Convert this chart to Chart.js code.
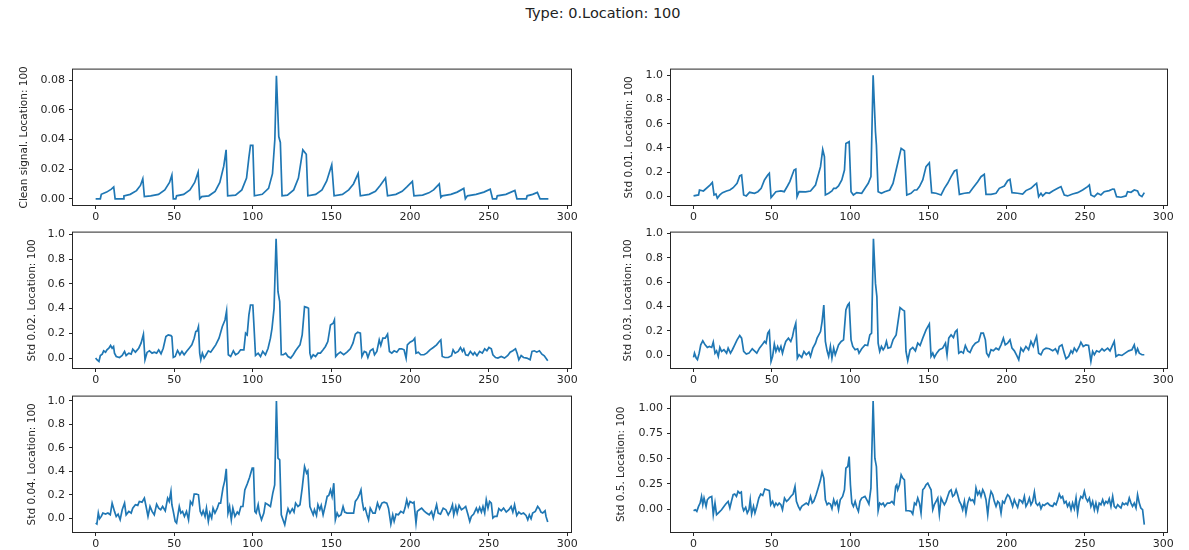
<!DOCTYPE html>
<html>
<head>
<meta charset="utf-8">
<script src="https://cdn.jsdelivr.net/npm/chart.js@4.4.1/dist/chart.umd.min.js"></script>
<style>
  html, body { margin: 0; padding: 0; background: #fff; overflow: hidden; }
  #fig { position: relative; width: 1189px; height: 550px; }
  #suptitle { position: absolute; left: 303px; width: 600px; top: 5px; text-align: center;
    font: 14.5px "DejaVu Sans", sans-serif; color: #222; }
  canvas { position: absolute; }
</style>
</head>
<body>
<div id="fig">
  <div id="suptitle"></div>
</div>
<script>
// Figure title and subplot titles
const figTitle = 'Type: 0.Location: 100';
const panelTitles = [
  'Clean signal. Location: 100', 'Std 0.01. Location: 100',
  'Std 0.02. Location: 100', 'Std 0.03. Location: 100',
  'Std 0.04. Location: 100', 'Std 0.5. Location: 100'
];

// Tick values / labels
const xTickValues = [0, 50, 100, 150, 200, 250, 300];
const xTickLabels = ['0', '50', '100', '150', '200', '250', '300'];
const yTicksClean = [0, 0.02, 0.04, 0.06, 0.08];
const yLabelsClean = ['0.00', '0.02', '0.04', '0.06', '0.08'];
const yTicksStd = [0, 0.2, 0.4, 0.6, 0.8, 1.0];
const yLabelsStd = ['0.0', '0.2', '0.4', '0.6', '0.8', '1.0'];
const yTicksWide = [0, 0.25, 0.5, 0.75, 1.0];
const yLabelsWide = ['0.00', '0.25', '0.50', '0.75', '1.00'];

// Signals, [sample, value]
const cleanSignal = [[0,0],[3,0],[3.6,0.003],[7,0.0045],[10,0.0065],[11.5,0.008],[12.4,0],[17.5,0],[18,0.002],[22,0.003],[26,0.0055],[28.5,0.009],[30,0.0135],[31,0.0015],[35,0.002],[40,0.003],[44,0.006],[47,0.011],[48.5,0.016],[49.4,0],[51,0],[51.5,0.002],[56,0.003],[60,0.006],[63,0.011],[65.2,0.018],[66.2,0],[67.5,0.0015],[72,0.002],[76,0.005],[79,0.011],[81.5,0.022],[83,0.033],[84,0.002],[89,0.0025],[93,0.006],[96,0.014],[97.5,0.028],[98.5,0.036],[100,0.036],[101,0.002],[106,0.003],[110,0.007],[112.5,0.017],[114,0.04],[115,0.083],[116.5,0.042],[117.5,0.038],[118.6,0.002],[122,0.0025],[126,0.006],[129,0.014],[131.8,0.033],[134,0.03],[135,0.002],[140,0.003],[144,0.006],[147,0.012],[150.2,0.023],[151.7,0.002],[157,0.003],[161,0.006],[164,0.01],[167,0.017],[168.4,0.002],[174,0.003],[178,0.005],[181,0.009],[184.4,0.014],[185.7,0.002],[191,0.003],[195,0.005],[198,0.008],[201.5,0.0117],[202.5,0.002],[208,0.0025],[212,0.004],[215,0.006],[218.6,0.010],[219.6,0.001],[220.5,0.002],[226,0.003],[230,0.0045],[234.2,0.007],[235.2,0],[236.5,0.002],[242,0.003],[247,0.0045],[251,0.0065],[252.5,0],[255,0],[255.5,0.002],[261,0.003],[266.7,0.0056],[268,0],[274,0],[274.5,0.002],[278,0.003],[281,0.0043],[282.7,0],[288,0]];

const std001 = [[0,0.003],[3.2,0.011],[3.8,0.052],[6.3,0.044],[10.5,0.093],[12,0.115],[13.1,0.011],[14.3,0.019],[15.2,-0.016],[16.8,0.011],[18.5,0.03],[21.1,0.044],[23.2,0.052],[25.3,0.071],[27.8,0.107],[29.5,0.168],[30.7,0.176],[32,0.011],[33.7,0.003],[35.8,0.033],[38.9,0.025],[41.1,0.038],[43.2,0.066],[45.3,0.135],[47.4,0.176],[48.4,0.19],[49.5,-0.011],[50.9,0.011],[52.6,0.038],[55.8,0.044],[57.9,0.038],[60,0.085],[61.5,0.121],[64.2,0.217],[65.3,0.225],[66.1,-0.003],[67.4,0.038],[71.6,0.036],[74.7,0.044],[77.9,0.093],[81.1,0.245],[82.5,0.387],[83.6,0.327],[84.2,0.011],[86.3,0.025],[88.4,0.044],[89.5,0.066],[90.9,0.066],[92.6,0.085],[94.7,0.135],[96.4,0.217],[97.3,0.437],[99.4,0.451],[100.6,0.038],[102.1,0.011],[104.2,0.03],[107.4,0.025],[109.5,0.066],[111.6,0.107],[113.3,0.162],[114.7,1.0],[116.2,0.533],[116.8,0.423],[117.9,0.038],[120,0.025],[122.1,0.038],[125.3,0.052],[127.4,0.107],[129.4,0.217],[132.6,0.396],[134.7,0.376],[136.2,0.011],[138.9,0.025],[141.1,0.052],[142.6,0.052],[144.3,0.08],[146.4,0.135],[148.5,0.245],[150.6,0.277],[152.1,0.03],[154.9,0.025],[158.1,0.011],[160.2,0.066],[162.3,0.107],[164.5,0.162],[166.6,0.209],[168.1,0.217],[169.8,0.016],[173,0.025],[176.2,0.03],[178.3,0.066],[181.5,0.121],[183.6,0.162],[185.7,0.181],[186.8,0.016],[190,0.016],[193.2,0.025],[195.3,0.066],[198.5,0.085],[200.6,0.129],[202.1,0.14],[203.4,0.03],[207,0.025],[210.2,0.019],[212.3,0.047],[215.5,0.066],[217.7,0.093],[219.1,0.107],[220.4,-0.003],[221.9,0.025],[223,0.003],[225.1,0.03],[227.2,0.025],[229.4,0.044],[232.6,0.066],[234.7,0.08],[236.8,0.011],[238.9,0.003],[242.1,0.019],[245.3,0.03],[248.5,0.052],[251.7,0.08],[252.8,0.093],[253.8,0.011],[256,-0.003],[258.1,0.025],[260.2,0.011],[262.3,0.038],[265.5,0.047],[267.7,0.06],[268.7,0.058],[270.2,-0.003],[273,-0.008],[276.2,0.003],[277.2,0.038],[279.4,0.033],[281.5,0.052],[283.6,0.044],[284.7,0.011],[286.4,-0.003],[287.9,0.03]];

const std002 = [[0,0],[0.8,-0.013],[2.1,-0.027],[3,0.021],[4.2,0.032],[5.1,0.059],[6.3,0.048],[7.2,0.067],[8.4,0.08],[9.5,0.102],[10.5,0.08],[11.4,0.094],[12,0.04],[13.1,0.013],[15.2,0.005],[16.9,0.021],[18.4,0.054],[19.4,0.021],[21.1,0.04],[22.6,0.032],[23.6,0.072],[25.3,0.048],[27.4,0.08],[28.9,0.121],[30.4,0.193],[31.4,-0.013],[32.7,0.046],[34.2,0.059],[35.9,0.04],[37.3,0.048],[38.8,0.04],[40.1,0.067],[41.6,0.035],[43,0.08],[44.7,0.174],[46.2,0.188],[47.9,0.182],[48.5,0.174],[49.4,0.005],[50.6,0.013],[52.1,0.062],[53.6,0.027],[54.9,0.054],[56.3,0.027],[57.8,0.054],[59.5,0.08],[61.2,0.107],[62.7,0.161],[63.7,0.214],[64.6,0.22],[65.4,0.255],[66.2,0.04],[66.9,-0.013],[67.9,0.04],[69,0],[70,0.021],[71.7,0.059],[73.2,0.048],[74.7,0.075],[76.4,0.107],[78.5,0.161],[80.6,0.255],[82.3,0.308],[83.3,0.381],[84.4,0.027],[85.9,0.013],[87.6,0.059],[89,0.027],[90.7,0.04],[92.2,0.067],[94.3,0.067],[95.4,0.201],[96.4,0.188],[97.5,0.349],[98.5,0.429],[100,0.429],[100.8,0.241],[101.7,0.021],[103.4,0.04],[104.9,0.013],[106.3,0.054],[108,0.027],[109.7,0.08],[111.2,0.161],[112.2,0.241],[113.5,0.402],[114.8,0.965],[116,0.536],[117.1,0.456],[118.1,0.027],[119.4,0.027],[120.9,0.04],[122.4,0.013],[124.1,0],[125.7,0.027],[127.2,0.059],[128.7,0.086],[130,0.107],[131.4,0.188],[132.9,0.416],[134.6,0.408],[135.4,0.402],[136.3,0.04],[137.1,0],[138.4,0.027],[139.9,0.013],[141.4,0.04],[143,0.04],[144.7,0.067],[146.2,0.094],[147.7,0.134],[149.4,0.268],[151.1,0.282],[151.9,0.308],[152.7,0.013],[154,0.032],[155.7,0.048],[157.8,0.027],[159.9,0.048],[162,0.075],[163.7,0.121],[165.2,0.193],[166.7,0.209],[168.4,0.201],[169.4,0.013],[170.9,0.054],[172.2,0.046],[173.2,0.005],[174.7,0.059],[176.4,0.075],[177.4,0.027],[178.9,0.054],[180.4,0.147],[181.4,0.102],[182.7,0.161],[184.2,0.161],[185.7,0.193],[186.9,0.054],[188.4,0.04],[189.9,0.059],[191.6,0.048],[193.2,0.075],[194.7,0.075],[196.2,0.067],[197.5,0],[198.3,0.107],[200,0.129],[201.7,0.139],[203,0.161],[203.8,0.04],[205.3,0.048],[206.8,0.027],[208.9,0.027],[210.6,0.04],[212.7,0.067],[214.8,0.086],[216.9,0.107],[218.6,0.134],[219.6,0.147],[220.5,0.013],[222.2,0.005],[224.3,0.005],[226.4,0.019],[227.4,0.067],[228.7,0.04],[230.6,0.054],[232.1,0.086],[233.3,0.054],[234.2,0.075],[235.4,0.027],[236.9,0.021],[238.4,0.054],[240.1,0.027],[241.1,0.046],[242.6,0.019],[244.3,0.054],[246,0.04],[247.5,0.075],[248.9,0.059],[250.2,0.086],[251.7,0.075],[252.7,0.027],[254.4,0.005],[255.9,0],[258,0.013],[260.1,0],[262.2,0.021],[263.7,0.048],[265.4,0.059],[267.1,0.075],[268.1,0.04],[269.2,-0.013],[270.7,0.021],[272.2,0.005],[274.3,0],[276.4,-0.013],[277.6,0.054],[279.1,0.059],[280.6,0.048],[282.3,0.059],[283.9,0.032],[285.4,0.019],[287.6,-0.021]];

const std003 = [[0,-0.019],[0.6,0.016],[1.7,-0.025],[2.5,-0.038],[3.6,0.016],[4.6,0.084],[5.9,0.117],[7.4,0.084],[8.8,0.063],[10.1,0.071],[11.6,0.063],[12.6,0.106],[13.7,0.016],[14.7,0.035],[15.8,-0.011],[16.8,0.063],[17.9,0.03],[19.4,0.044],[21.1,0.016],[22.1,0.057],[23.6,0.016],[24.8,0.044],[26.3,0.084],[27.8,0.125],[29.5,0.161],[30.7,0.139],[32,0.03],[33.7,0.008],[35.4,0.016],[37.5,0.052],[38.9,0.035],[40.4,0.016],[42.1,0.057],[43.8,0.084],[45.3,0.112],[46.3,0.098],[47.4,0.18],[48.4,0.199],[49.5,-0.052],[50.5,-0.011],[51.6,0.09],[52.6,0.03],[53.7,0.071],[54.7,0.035],[55.8,0.071],[56.8,0.016],[57.9,0.071],[58.9,0.112],[60.6,0.139],[62.1,0.112],[63.2,0.153],[64.2,0.215],[65.3,0.262],[66.3,-0.025],[67.4,0.003],[69.1,-0.019],[70.5,0.03],[72,0.003],[73.7,0.025],[74.7,-0.011],[76.2,0.057],[77.9,0.098],[78.9,0.139],[80,0.166],[81.1,0.193],[82.1,0.275],[83.2,0.411],[84.2,0.112],[85.3,0.035],[86.3,-0.011],[87.4,0.071],[88.4,-0.025],[89.5,0.057],[90.5,0.003],[91.6,0.044],[92.6,0.084],[94.3,0.112],[95.8,0.125],[97.3,0.371],[98.5,0.411],[99.4,0.425],[100.6,0.125],[101.7,0.071],[103.2,0.044],[104.8,0.052],[105.7,0.016],[107.4,0.052],[109.5,0.084],[111.2,0.079],[112.6,0.166],[113.7,0.18],[114.9,0.956],[116.2,0.589],[117.1,0.48],[117.9,0.098],[118.9,0.03],[120,0.071],[121.1,0.044],[122.1,0.063],[123.2,0.112],[124.2,0.057],[125.9,0.063],[127.4,0.125],[129.4,0.166],[131.9,0.39],[133.6,0.371],[134.7,0.362],[135.7,0.03],[136.8,-0.046],[138.3,0.044],[140,0.063],[141.7,0.035],[143.2,0.098],[144.7,0.079],[146.4,0.139],[148.5,0.207],[150.6,0.256],[151.7,-0.011],[152.8,0.016],[153.8,-0.019],[155.3,0.016],[157,0.044],[159.1,0.057],[160.9,0.098],[161.9,0.003],[163,0.139],[164.5,0.166],[166,0.144],[167.2,0.193],[168.3,0.207],[169.4,0.016],[170.9,0.03],[172.3,0.016],[173.6,0.079],[175.1,0.035],[176.6,0.022],[178.3,0.071],[180,0.098],[182.1,0.112],[183.6,0.18],[185.1,0.18],[186.4,0.125],[187.2,0.016],[188.5,-0.011],[190,0.044],[191.5,0.035],[193.2,0.057],[194.9,0.044],[196.4,0.084],[197.9,0.139],[199.1,0.084],[200.6,0.098],[202.1,0.125],[203.4,0.057],[204.9,0.035],[206.4,-0.003],[207.7,-0.038],[209.1,0.057],[210.6,0.03],[212.3,0.071],[214,0.044],[215.5,0.112],[217,0.071],[218.3,0.125],[219.1,0.153],[220.4,0.016],[221.9,0.003],[223.4,0.044],[225.1,0.057],[227.2,0.052],[229.4,0.035],[231.1,0.052],[232.6,0.016],[233.6,0.071],[235.3,0.084],[236.8,0.016],[237.9,-0.03],[239.6,-0.011],[241.1,0.035],[242.1,0.016],[243.2,0.057],[244.7,0.03],[246.4,0.071],[247.4,0.106],[248.9,0.071],[250.6,0.084],[252.3,0.079],[253.8,-0.052],[254.9,0.03],[256,0.003],[257.4,0.035],[259.1,0.025],[260.9,0.052],[262.3,0.035],[264.5,0.057],[266,0.035],[267.7,0.084],[268.7,0.112],[269.8,-0.011],[271.5,0.003],[273.6,-0.003],[275.7,0.016],[277.9,0.035],[280,0.044],[281.5,0.084],[282.6,0.016],[283.6,0.052],[284.7,0.016],[286.4,0.003],[287.9,0.003]];

const std004 = [[0,-0.043],[0.8,-0.051],[1.7,0.043],[2.5,-0.006],[3.6,0.014],[4.6,0.043],[6.3,0.034],[7.8,0.043],[9.3,0.028],[10.5,0.128],[12,0.057],[13.1,0.014],[14.3,0.034],[15.6,-0.014],[16.9,0.071],[18.4,0.128],[19.4,0.028],[21.1,0.057],[22.6,0.043],[23.6,0.085],[25.3,0.114],[26.8,0.108],[27.8,0.142],[29.5,0.136],[31,0.17],[32.1,0.099],[33.3,0.014],[34.6,0.099],[35.9,0.057],[37.3,0.028],[38.8,0.119],[40.1,0.085],[41.4,0.071],[42.6,0.099],[44.3,0.062],[45.8,0.17],[46.8,0.142],[47.9,0.227],[48.5,0.114],[49.4,0.057],[50.6,-0.028],[51.5,-0.043],[53.2,0.099],[54.2,0.043],[55.3,0.057],[56.5,0.014],[57.8,0.057],[59.1,-0.014],[60.3,0.142],[61.6,0.114],[62.7,0.205],[64.1,0.205],[65.4,0.199],[66.5,0.057],[67.5,0.028],[68.4,0.062],[69.6,0.014],[70.5,0.085],[71.7,-0.028],[72.6,0.043],[73.8,0],[74.7,0.085],[75.9,0.043],[77.4,0.085],[78.5,0.128],[79.5,0.128],[81,0.256],[82.1,0.318],[83.1,0.42],[84.2,0.043],[85.2,0.099],[86.3,-0.014],[87.3,0.085],[88.6,0.014],[90.1,0.051],[91.1,0.034],[92.4,0.099],[93.7,0.099],[94.9,0.241],[96.4,0.29],[97.9,0.347],[99.6,0.426],[100.4,0.426],[101.3,0.057],[102.1,0.043],[103.4,0.114],[104.2,0.043],[105.5,-0.014],[107,0.043],[108,0.128],[109.7,0.114],[111.2,0.099],[112.7,0.213],[113.9,0.284],[115,1.0],[116,0.511],[117.1,0.497],[118.1,0.028],[120.3,-0.057],[121.5,0.028],[122.4,0.08],[123.6,0.043],[125.1,0.08],[126.2,0.051],[127.2,0.128],[128.7,0.099],[130,0.114],[131.4,0.256],[132.9,0.44],[134.2,0.384],[135,0.403],[136.3,0.099],[137.1,0.071],[138.4,0.028],[139.2,0.071],[140.5,0.023],[141.4,0.114],[142.6,0.071],[143.5,0.108],[144.7,0.028],[146.2,0.114],[147.3,0.185],[148.3,0.193],[149.4,0.241],[150.4,0.185],[151.5,0.298],[152.5,-0.014],[153.6,0.043],[154.6,0.014],[156.1,0.028],[157.4,0.099],[158.4,0.051],[159.9,0.043],[162,0.043],[164.1,0.043],[165.2,0.142],[166.7,0.17],[167.9,0.205],[168.8,0.241],[169.6,0.142],[170.5,0.071],[171.5,0.085],[172.6,0.028],[173.6,-0.014],[174.7,0.085],[176.4,0.043],[177.8,0.043],[179.3,0.128],[180.6,0.08],[182.1,0.128],[183.5,0.136],[185.2,0.128],[186.3,0.085],[187.8,-0.051],[189,0.028],[189.9,-0.028],[191.1,0.034],[192.6,0.028],[194.1,0.057],[195.8,0.043],[196.8,0.085],[197.9,0.156],[198.9,0.099],[200,0.142],[201.7,0.128],[202.5,0.136],[203.8,-0.043],[204.6,0.057],[205.9,0.071],[207.4,0.085],[208.9,0.062],[210.5,0.043],[212.2,0.028],[213.7,0.057],[214.8,0],[215.8,0.057],[216.9,0.114],[217.9,0.043],[219.4,0.034],[221.1,0.085],[222.8,0.071],[224.3,0.028],[225.7,0.062],[227,0.114],[227.8,0.028],[229.1,0.099],[230,0.043],[231.2,0.108],[232.7,0.071],[234.2,0.085],[235.4,0.099],[236.9,0.028],[238,-0.028],[239,0.014],[240.5,0.034],[242.2,0.085],[243.2,0.051],[244.3,0.091],[245.4,0.051],[246.4,0.099],[247.5,0.043],[248.5,0.156],[249.6,0.085],[250.6,0.142],[251.7,0.128],[252.7,0],[253.8,0.014],[255.3,0.014],[256.5,0.08],[258,0.062],[259.5,0.085],[261.2,0.051],[262.9,0.071],[264.3,0.099],[265.4,0.051],[266.5,0.114],[267.9,0.023],[269.2,0.051],[270.7,0.034],[272.2,0.043],[273.8,0.023],[274.9,-0.014],[275.9,0.028],[277,-0.006],[278,0.043],[279.7,0.057],[281.2,0.099],[282.3,0.08],[283.3,0.051],[284.4,0.043],[285.9,0.062],[286.5,0.014],[287.6,-0.034]];

const std05 = [[0,-0.017],[1.1,-0.007],[2.1,-0.023],[3.2,0.026],[4.2,0.059],[5.1,0.125],[5.9,0.043],[6.7,0.109],[8,0.026],[8.8,0.092],[10.1,0.116],[11.6,0.125],[12.6,-0.056],[13.7,0.059],[14.7,-0.056],[16.4,-0.03],[17.9,-0.007],[19.4,0.026],[20.6,0.05],[22.1,0.076],[23.2,0.01],[24.2,0.076],[25.3,0.142],[26.3,0.149],[27.4,0.125],[28.4,0.175],[29.5,0.158],[30.5,0.168],[31.2,0.026],[32,-0.017],[33.3,0.017],[34.3,-0.04],[35.4,-0.007],[36.2,0.092],[37.1,-0.05],[38.3,0.026],[39.2,-0.04],[40.4,0.026],[41.7,0.109],[42.9,0.149],[44.2,0.135],[45.5,0.198],[46.9,0.191],[48.4,0.182],[49.3,0.043],[50.5,0.076],[51.6,0.026],[52.6,0.059],[53.7,0.036],[54.7,0.059],[55.8,0.043],[56.8,-0.007],[58.1,0.109],[59.4,0.076],[60.6,0.092],[62.1,0.125],[63.6,0.149],[64.8,0.224],[65.7,0.076],[66.9,0.026],[68,-0.007],[69.1,0.026],[70.5,0.043],[72,0.059],[73.3,0.043],[74.7,0.125],[75.8,0.059],[76.8,0.076],[78.3,0.142],[79.6,0.208],[81.1,0.29],[82.1,0.366],[83.2,0.307],[84.2,0.092],[85.3,0.043],[86.3,0.059],[87.4,0.05],[88.4,0.003],[89.5,0.092],[90.5,0.043],[91.6,0.076],[92.6,-0.007],[93.7,0.092],[95.2,0.125],[96.4,0.191],[97.3,0.406],[98.5,0.422],[99.4,0.521],[100.2,0.241],[101.1,0.059],[102.1,0.026],[103.2,0.076],[104.2,0.017],[105.3,-0.023],[106.3,0.076],[107.4,0.109],[108.4,0.116],[109.5,0.125],[111.2,0.076],[112,0.05],[113.3,0.208],[114.7,1.073],[115.8,0.505],[116.8,0.422],[117.9,-0.017],[118.9,0.059],[120,0.043],[121.1,0.059],[122.1,0.026],[123.8,0.059],[125.3,0.059],[126.7,0.076],[128,0.05],[129.1,0.224],[129.8,0.241],[130.4,0.191],[131.5,0.241],[132.6,0.34],[133.6,0.307],[134.7,0.29],[135.7,-0.017],[137.4,-0.017],[138.9,-0.023],[140,-0.05],[141.1,0.059],[142.1,0.043],[143.2,0.109],[144.3,0.059],[145.3,-0.04],[146.4,0.191],[147.4,0.208],[148.5,0.241],[149.6,0.257],[150.6,0.224],[151.7,0.191],[152.8,-0.007],[153.8,0.043],[154.9,0.076],[156,0.109],[157,-0.05],[158.1,0.109],[159.1,0.076],[160.2,0.043],[161.3,0.076],[162.3,0.125],[163.4,0.175],[164.5,0.191],[165.5,0.125],[166.6,0.142],[167.7,0.191],[168.7,0.142],[169.8,0.076],[170.9,0.043],[171.9,-0.007],[173,0.076],[174,-0.04],[175.1,0.059],[176.2,0.109],[177.2,0.083],[178.3,0.092],[179.4,0.059],[180.4,0.208],[181.5,0.142],[182.6,0.175],[183.6,0.125],[184.7,0.191],[185.7,0.158],[186.8,0.092],[187.9,-0.056],[188.9,0.092],[190,0.175],[191.1,0.142],[192.1,0.076],[193.2,0.026],[194.3,0.076],[195.3,0.059],[196.4,-0.04],[197.4,0.076],[198.5,0.059],[199.6,0.109],[200.6,0.142],[201.7,0.125],[202.8,0.076],[203.8,0.026],[204.9,0.092],[206,0.05],[207,0.017],[208.1,0.092],[209.1,0.083],[210.2,0.059],[211.3,0.125],[212.3,0.026],[213.4,0.059],[214.5,0.109],[215.5,0.043],[216.6,0.076],[217.7,0.168],[218.7,0.059],[219.8,0.036],[220.9,0.059],[221.9,0.003],[223,0.043],[224,0.036],[225.1,0.05],[226.2,0.059],[227.7,0.036],[229.4,0.026],[230.4,0.059],[231.5,0.043],[232.6,0.092],[233.6,0.149],[234.7,0.109],[235.7,0.125],[236.8,0.059],[237.9,0.076],[238.9,0.026],[240,0.059],[241.1,-0.007],[242.1,0.059],[243.2,0.003],[244.3,0.109],[245.3,-0.04],[246.4,0.076],[247.4,0.125],[248.5,0.109],[249.6,0.175],[250.6,0.109],[251.7,0.076],[252.8,0.109],[253.8,0.026],[254.9,0.076],[256,-0.007],[257,0.059],[258.1,-0.017],[259.1,0.059],[260.2,0.043],[261.3,0.092],[262.3,0.043],[263.4,0.076],[264.5,0.059],[265.5,0.102],[266.6,0.026],[267.7,0.125],[268.7,0.026],[269.8,0.01],[270.9,0.043],[271.9,0.026],[273,0.01],[274,0.059],[275.1,0.043],[276.2,0.059],[277.2,0.043],[278.3,0.109],[279.4,0.059],[280.4,0.026],[281.5,0.059],[282.6,0.01],[283.6,0.142],[284.7,0.059],[285.7,0.01],[286.8,-0.007],[287.9,-0.155]];

// Subplot layout (chart area in page pixels) and axis ranges
const panels = [
  { series: cleanSignal, title: panelTitles[0], yTicks: yTicksClean, yLabels: yLabelsClean, yMin: -0.0042, yMax: 0.0872, left: 73, right: 571, top: 69, bottom: 205, titleX: 24 },
  { series: std001, title: panelTitles[1], yTicks: yTicksStd, yLabels: yLabelsStd, yMin: -0.072, yMax: 1.047, left: 671, right: 1167, top: 69, bottom: 205, titleX: 629 },
  { series: std002, title: panelTitles[2], yTicks: yTicksStd, yLabels: yLabelsStd, yMin: -0.08, yMax: 1.014, left: 73, right: 571, top: 232, bottom: 368, titleX: 32 },
  { series: std003, title: panelTitles[3], yTicks: yTicksStd, yLabels: yLabelsStd, yMin: -0.106, yMax: 1.006, left: 671, right: 1167, top: 232, bottom: 368, titleX: 628 },
  { series: std004, title: panelTitles[4], yTicks: yTicksStd, yLabels: yLabelsStd, yMin: -0.119, yMax: 1.0375, left: 73, right: 571, top: 396, bottom: 532, titleX: 32 },
  { series: std05, title: panelTitles[5], yTicks: yTicksWide, yLabels: yLabelsWide, yMin: -0.228, yMax: 1.116, left: 671, right: 1167, top: 396, bottom: 532, titleX: 621 }
];

const X_MIN = -14.4, X_MAX = 302.4;
const INK = '#262626';
const LINE = '#1f77b4';
const PAD_TOP = 10, X_AXIS_H = 22;

document.getElementById('suptitle').textContent = figTitle;

// box around the plot area, like matplotlib spines
const frame = {
  id: 'frame',
  afterDraw(chart) {
    const { ctx, chartArea: a } = chart;
    ctx.save();
    ctx.strokeStyle = INK;
    ctx.lineWidth = 1;
    ctx.strokeRect(a.left - 0.5, a.top - 0.5, a.right - a.left + 1, a.bottom - a.top + 1);
    ctx.restore();
  }
};

const fig = document.getElementById('fig');

panels.forEach(p => {
  const canvasLeft = Math.round(p.titleX - 6.3);
  const yAxisW = p.left - canvasLeft;
  const padRight = p.left > 600 ? 1189 - p.right : 10;
  const w = yAxisW + (p.right - p.left) + padRight;
  const h = PAD_TOP + (p.bottom - p.top) + X_AXIS_H;

  const canvas = document.createElement('canvas');
  canvas.width = w;
  canvas.height = h;
  canvas.style.left = canvasLeft + 'px';
  canvas.style.top = (p.top - PAD_TOP) + 'px';
  fig.appendChild(canvas);

  new Chart(canvas, {
    type: 'line',
    data: {
      datasets: [{
        data: p.series.map(([x, y]) => ({ x, y })),
        borderColor: LINE,
        borderWidth: 1.7,
        pointRadius: 0,
        tension: 0,
        fill: false
      }]
    },
    options: {
      responsive: false,
      animation: false,
      events: [],
      layout: { padding: { top: PAD_TOP, right: padRight, left: 0, bottom: 0 } },
      plugins: { legend: { display: false }, tooltip: { enabled: false } },
      scales: {
        x: {
          type: 'linear',
          min: X_MIN,
          max: X_MAX,
          afterBuildTicks: s => { s.ticks = xTickValues.map(v => ({ value: v })); },
          afterFit: s => { s.height = X_AXIS_H; },
          ticks: {
            autoSkip: false, maxRotation: 0, padding: 2, color: INK,
            font: { family: 'DejaVu Sans', size: 11 },
            callback: (v, i) => xTickLabels[i]
          },
          grid: { drawOnChartArea: false, drawTicks: true, tickLength: 4, color: INK },
          border: { display: false }
        },
        y: {
          type: 'linear',
          min: p.yMin,
          max: p.yMax,
          afterBuildTicks: s => { s.ticks = p.yTicks.map(v => ({ value: v })); },
          afterFit: s => { s.width = yAxisW; },
          ticks: {
            autoSkip: false, padding: 4, color: INK,
            font: { family: 'DejaVu Sans', size: 11 },
            callback: (v, i) => p.yLabels[i]
          },
          grid: { drawOnChartArea: false, drawTicks: true, tickLength: 4, color: INK },
          border: { display: false },
          title: {
            display: true, text: p.title, color: INK, padding: 0,
            font: { family: 'DejaVu Sans', size: 10.5 }
          }
        }
      }
    },
    plugins: [frame]
  });
});
</script>
</body>
</html>
